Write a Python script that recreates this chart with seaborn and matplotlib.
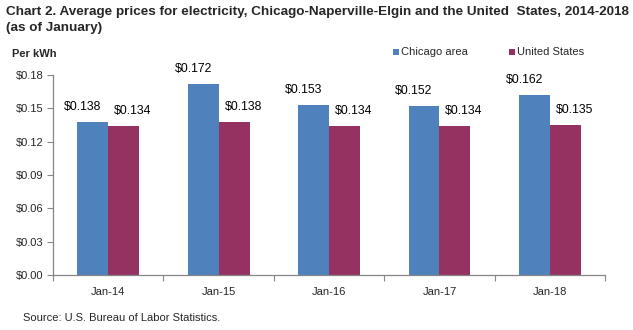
import matplotlib
matplotlib.use("Agg")
import matplotlib.pyplot as plt
from matplotlib.ticker import FixedLocator, NullFormatter
import seaborn as sns
import pandas as pd
import numpy as np

periods = ["Jan-14", "Jan-15", "Jan-16", "Jan-17", "Jan-18"]
chicago = [0.138, 0.172, 0.153, 0.152, 0.162]
united_states = [0.134, 0.138, 0.134, 0.134, 0.135]
series_names = ["Chicago area", "United States"]
y_ticks = [0.00, 0.03, 0.06, 0.09, 0.12, 0.15, 0.18]

df = pd.DataFrame({
    "period": periods * 2,
    "price": chicago + united_states,
    "series": [series_names[0]] * len(periods) + [series_names[1]] * len(periods),
})

sns.set_theme(style="white")
plt.rcParams["font.family"] = ["Liberation Sans", "DejaVu Sans"]

fig = plt.figure(figsize=(6.33, 3.30), dpi=100)
ax = fig.add_axes([0.0837, 0.1667, 0.8723, 0.6063])

palette = {"Chicago area": "#4F81BD", "United States": "#953262"}
sns.barplot(data=df, x="period", y="price", hue="series", palette=palette,
            width=0.56, gap=0, saturation=1, ax=ax, legend=False)

# value labels: left-shifted over the first series, right-shifted over the second
shifts = [-7.2, 6.5]
for container, dx in zip(ax.containers, shifts):
    for bar in container:
        bar.set_linewidth(0)
        h = bar.get_height()
        ax.annotate(f"${h:.3f}", xy=(bar.get_x() + bar.get_width() / 2, h),
                    xytext=(dx, 6.5), textcoords="offset points",
                    ha="center", va="bottom", fontsize=8.8, color="#000000")

ax.set_xlim(-0.5, len(periods) - 0.5)
ax.set_ylim(0, 0.18)
ax.set_yticks(y_ticks)
ax.set_yticklabels([f"${v:.2f}" for v in y_ticks], fontsize=8)
ax.set_xlabel("")
ax.set_ylabel("")
ax.tick_params(axis="x", length=0, labelsize=8, pad=9)
ax.xaxis.set_minor_locator(FixedLocator(np.arange(-0.5, len(periods), 1.0)))
ax.xaxis.set_minor_formatter(NullFormatter())
ax.tick_params(axis="x", which="minor", length=4, width=0.8, color="#868686", bottom=True)
ax.tick_params(axis="y", length=4, width=0.8, color="#868686", left=True, pad=3)
for side in ["top", "right"]:
    ax.spines[side].set_visible(False)
for side in ["left", "bottom"]:
    ax.spines[side].set_color("#868686")
    ax.spines[side].set_linewidth(0.9)

fig.text(0.010, 0.982, "Chart 2. Average prices for electricity, Chicago-Naperville-Elgin and the United  States, 2014-2018\n(as of January)",
         fontsize=9.7, fontweight="bold", va="top", ha="left", linespacing=1.4)
fig.text(0.019, 0.835, "Per kWh", fontsize=8, fontweight="bold", va="center", ha="left")
fig.text(0.036, 0.036, "Source: U.S. Bureau of Labor Statistics.", fontsize=8, va="center", ha="left")

# Legend markers and labels
for xpos, name in zip([0.621, 0.804], series_names):
    fig.patches.append(plt.Rectangle((xpos, 0.833), 0.0095, 0.018, transform=fig.transFigure,
                                     facecolor=palette[name], edgecolor="none"))
    fig.text(xpos + 0.013, 0.843, name, fontsize=8, va="center", ha="left")

fig.savefig("out.png", dpi=100)
